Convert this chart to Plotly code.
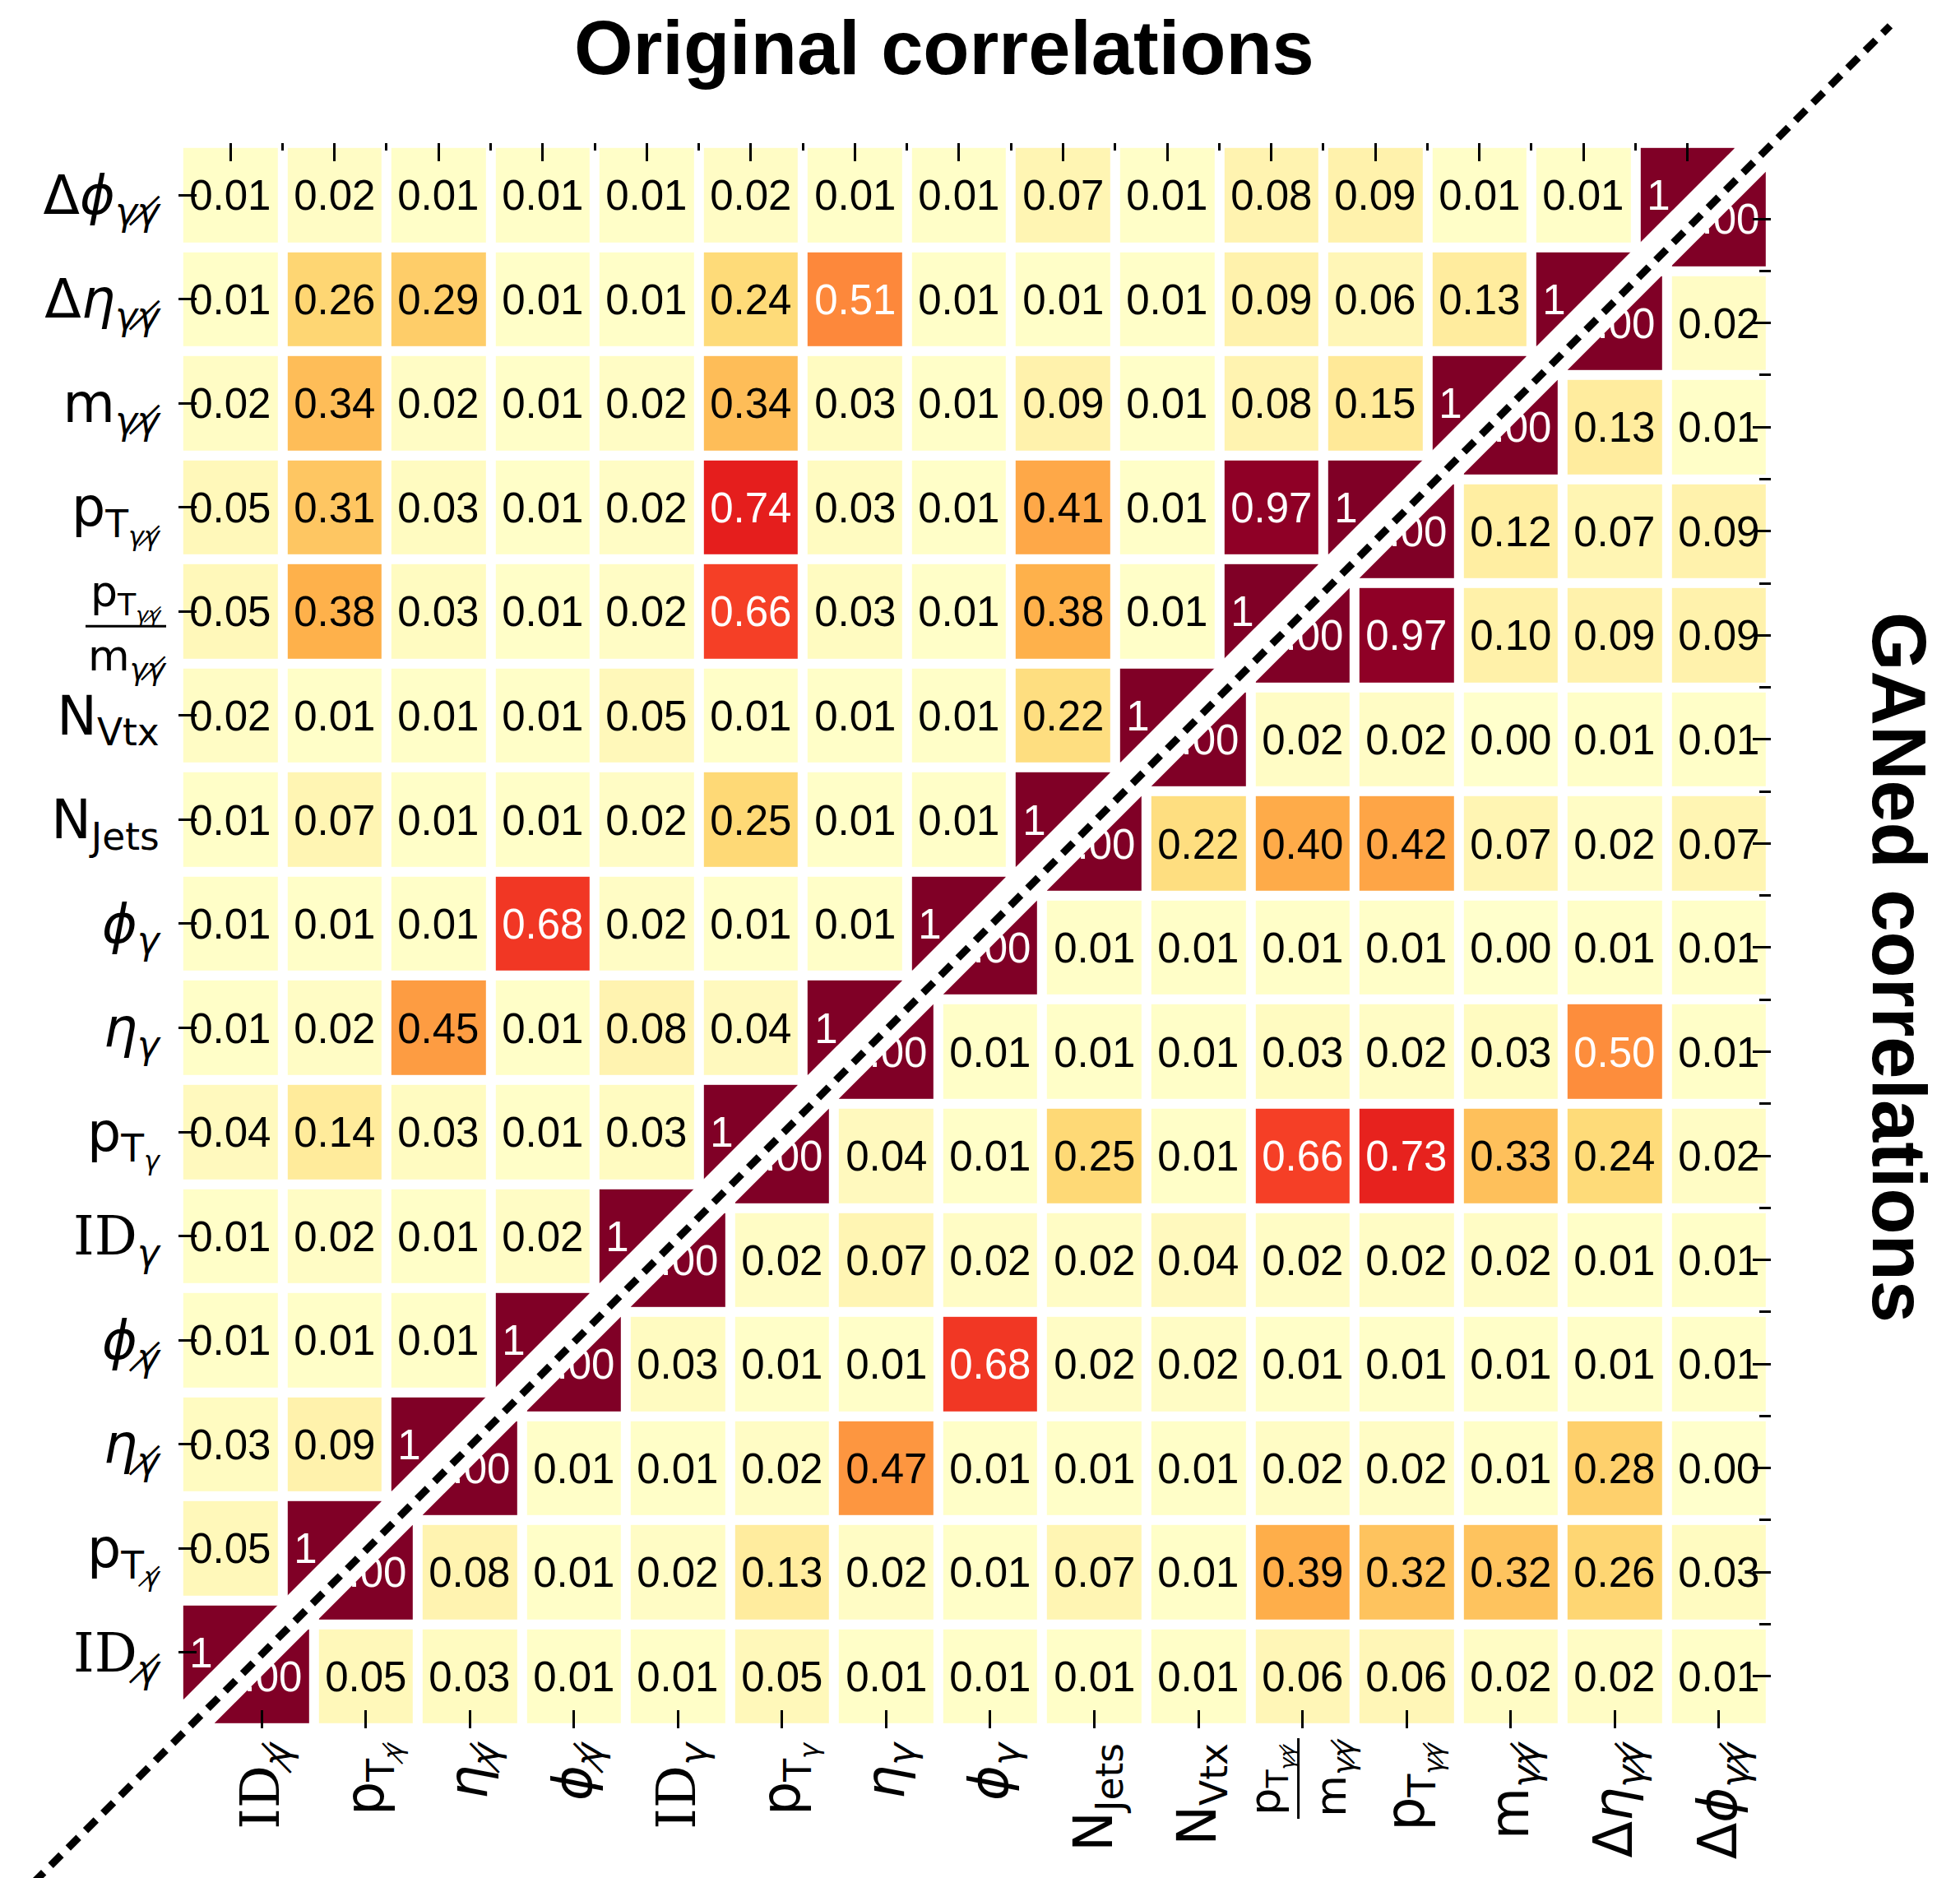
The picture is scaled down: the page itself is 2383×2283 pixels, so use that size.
import plotly.graph_objects as go

# ---------------- data ----------------
G2 = "\u03b3\u0338"  # slashed gamma (second photon)
ID = "<span style='font-family:DejaVu Serif'>ID</span>"
labels = [
    ID + "<sub><i>" + G2 + "</i></sub>",
    "p<sub>T<sub><i>" + G2 + "</i></sub></sub>",
    "<i>\u03b7</i><sub><i>" + G2 + "</i></sub>",
    "<i>\u03d5</i><sub><i>" + G2 + "</i></sub>",
    ID + "<sub><i>\u03b3</i></sub>",
    "p<sub>T<sub><i>\u03b3</i></sub></sub>",
    "<i>\u03b7</i><sub><i>\u03b3</i></sub>",
    "<i>\u03d5</i><sub><i>\u03b3</i></sub>",
    "N<sub>Jets</sub>",
    "N<sub>Vtx</sub>",
    "",  # ratio label drawn as a fraction below
    "p<sub>T<sub><i>\u03b3" + G2 + "</i></sub></sub>",
    "m<sub><i>\u03b3" + G2 + "</i></sub>",
    "\u0394<i>\u03b7</i><sub><i>\u03b3" + G2 + "</i></sub>",
    "\u0394<i>\u03d5</i><sub><i>\u03b3" + G2 + "</i></sub>",
]
ratio_index = 10
ratio_num = "p<sub>T<sub><i>\u03b3" + G2 + "</i></sub></sub>"
ratio_den = "m<sub><i>\u03b3" + G2 + "</i></sub>"

# Original correlations: row r (from bottom), columns 0..r
orig_rows = [
    [1.00],
    [0.05, 1.00],
    [0.03, 0.09, 1.00],
    [0.01, 0.01, 0.01, 1.00],
    [0.01, 0.02, 0.01, 0.02, 1.00],
    [0.04, 0.14, 0.03, 0.01, 0.03, 1.00],
    [0.01, 0.02, 0.45, 0.01, 0.08, 0.04, 1.00],
    [0.01, 0.01, 0.01, 0.68, 0.02, 0.01, 0.01, 1.00],
    [0.01, 0.07, 0.01, 0.01, 0.02, 0.25, 0.01, 0.01, 1.00],
    [0.02, 0.01, 0.01, 0.01, 0.05, 0.01, 0.01, 0.01, 0.22, 1.00],
    [0.05, 0.38, 0.03, 0.01, 0.02, 0.66, 0.03, 0.01, 0.38, 0.01, 1.00],
    [0.05, 0.31, 0.03, 0.01, 0.02, 0.74, 0.03, 0.01, 0.41, 0.01, 0.97, 1.00],
    [0.02, 0.34, 0.02, 0.01, 0.02, 0.34, 0.03, 0.01, 0.09, 0.01, 0.08, 0.15, 1.00],
    [0.01, 0.26, 0.29, 0.01, 0.01, 0.24, 0.51, 0.01, 0.01, 0.01, 0.09, 0.06, 0.13, 1.00],
    [0.01, 0.02, 0.01, 0.01, 0.01, 0.02, 0.01, 0.01, 0.07, 0.01, 0.08, 0.09, 0.01, 0.01, 1.00],
]

# GANed correlations: row r (from bottom), columns r..14
gan_rows = [
    [1.00, 0.05, 0.03, 0.01, 0.01, 0.05, 0.01, 0.01, 0.01, 0.01, 0.06, 0.06, 0.02, 0.02, 0.01],
    [1.00, 0.08, 0.01, 0.02, 0.13, 0.02, 0.01, 0.07, 0.01, 0.39, 0.32, 0.32, 0.26, 0.03],
    [1.00, 0.01, 0.01, 0.02, 0.47, 0.01, 0.01, 0.01, 0.02, 0.02, 0.01, 0.28, 0.00],
    [1.00, 0.03, 0.01, 0.01, 0.68, 0.02, 0.02, 0.01, 0.01, 0.01, 0.01, 0.01],
    [1.00, 0.02, 0.07, 0.02, 0.02, 0.04, 0.02, 0.02, 0.02, 0.01, 0.01],
    [1.00, 0.04, 0.01, 0.25, 0.01, 0.66, 0.73, 0.33, 0.24, 0.02],
    [1.00, 0.01, 0.01, 0.01, 0.03, 0.02, 0.03, 0.50, 0.01],
    [1.00, 0.01, 0.01, 0.01, 0.01, 0.00, 0.01, 0.01],
    [1.00, 0.22, 0.40, 0.42, 0.07, 0.02, 0.07],
    [1.00, 0.02, 0.02, 0.00, 0.01, 0.01],
    [1.00, 0.97, 0.10, 0.09, 0.09],
    [1.00, 0.12, 0.07, 0.09],
    [1.00, 0.13, 0.01],
    [1.00, 0.02],
    [1.00],
]

YLORRD = ["#ffffcc", "#ffeda0", "#fed976", "#feb24c", "#fd8d3c",
          "#fc4e2a", "#e31a1c", "#bd0026", "#800026"]

# ---------------- layout constants ----------------
W, H = 2383, 2283
N = len(labels)
pitch = 126.55
span = N * pitch
o_left, o_top = 208.8, 165.8
g_left, g_top = o_left + 38.0, o_top + 29.0

def px_x(p):
    return p / W

def px_y(p):
    return 1 - p / H

colorscale = [[i / (len(YLORRD) - 1), c] for i, c in enumerate(YLORRD)]

def full_matrix(rows, upper):
    z = [[None] * N for _ in range(N)]
    for r, vals in enumerate(rows):
        start = r if upper else 0
        for k, v in enumerate(vals):
            z[r][start + k] = v
    return z

def split(z, light):
    zz, tt = [], []
    for row in z:
        zr, tr = [], []
        for v in row:
            ok = v is not None and ((v >= 0.5) == light)
            zr.append(v if ok else None)
            tr.append(f"{v:.2f}" if ok else "")
        zz.append(zr)
        tt.append(tr)
    return zz, tt

z_orig = full_matrix(orig_rows, upper=False)
z_gan = full_matrix(gan_rows, upper=True)

fig = go.Figure()
idx = list(range(N))
NUMFONT = "Liberation Sans, Arial, sans-serif"
for z, xa, ya in [(z_orig, "x", "y"), (z_gan, "x2", "y2")]:
    for light in (False, True):
        zz, tt = split(z, light)
        fig.add_trace(go.Heatmap(
            z=zz, x=idx, y=idx, text=tt, texttemplate="%{text}",
            textfont=dict(family=NUMFONT, size=51,
                          color="white" if light else "black"),
            colorscale=colorscale, zmin=0, zmax=1, showscale=False,
            xgap=12, ygap=12, xaxis=xa, yaxis=ya, hoverinfo="skip",
        ))

LABELFONT = "DejaVu Sans"
tickfont = dict(family=LABELFONT, size=65, color="black")
common = dict(range=[-0.5, N - 0.5], tickmode="array", tickvals=idx,
              showgrid=False, zeroline=False, showline=False,
              ticks="inside", ticklen=22, tickwidth=2.5, tickcolor="black",
              automargin=False, fixedrange=True)
minor_vals = [i - 0.5 for i in range(N + 1)]

fig.update_layout(
    width=W, height=H,
    margin=dict(l=0, r=0, t=0, b=0),
    paper_bgcolor="white", plot_bgcolor="rgba(0,0,0,0)",
    xaxis=dict(domain=[px_x(o_left), px_x(o_left + span)], anchor="y", side="top",
               showticklabels=False,
               minor=dict(tickmode="array", tickvals=minor_vals, ticks="inside",
                          ticklen=9, tickwidth=3, tickcolor="black"),
               **common),
    yaxis=dict(domain=[px_y(o_top + span), px_y(o_top)], anchor="x", side="left",
               ticktext=labels, tickfont=tickfont, ticklabelstandoff=22, **common),
    xaxis2=dict(domain=[px_x(g_left), px_x(g_left + span)], anchor="y2", side="bottom",
                ticktext=labels, tickfont=tickfont, tickangle=-90,
                ticklabelstandoff=4, **common),
    yaxis2=dict(domain=[px_y(g_top + span), px_y(g_top)], anchor="x2", side="right",
                showticklabels=False,
                minor=dict(tickmode="array", tickvals=minor_vals, ticks="inside",
                           ticklen=14, tickwidth=3, tickcolor="black"),
                **common),
)

# ---- fraction label (pT/m) for the ratio variable ----
fracfont = dict(family=LABELFONT, size=52, color="black")
# left axis (original rows)
row_c = o_top + (N - 1 - ratio_index + 0.5) * pitch
fig.add_annotation(text=ratio_num, xref="paper", yref="paper", x=px_x(145), y=px_y(row_c - 18),
                   xanchor="center", yanchor="middle", showarrow=False, font=fracfont)
fig.add_annotation(text=ratio_den, xref="paper", yref="paper", x=px_x(147), y=px_y(row_c + 58),
                   xanchor="center", yanchor="middle", showarrow=False, font=fracfont)
fig.add_shape(type="line", xref="paper", yref="paper",
              x0=px_x(96), x1=px_x(194), y0=px_y(row_c + 18), y1=px_y(row_c + 18),
              line=dict(color="black", width=3))
# bottom axis (GANed columns)
col_c = g_left + (ratio_index + 0.5) * pitch
bot = g_top + span
fig.add_annotation(text=ratio_num, xref="paper", yref="paper", x=px_x(col_c - 40), y=px_y(bot + 62),
                   xanchor="center", yanchor="middle", textangle=-90, showarrow=False, font=fracfont)
fig.add_annotation(text=ratio_den, xref="paper", yref="paper", x=px_x(col_c + 38), y=px_y(bot + 60),
                   xanchor="center", yanchor="middle", textangle=-90, showarrow=False, font=fracfont)
fig.add_shape(type="line", xref="paper", yref="paper",
              x0=px_x(col_c - 5), x1=px_x(col_c - 5), y0=px_y(bot + 12), y1=px_y(bot + 110),
              line=dict(color="black", width=3))

# diagonal separator: white band between the two triangles + dashed line
band_sum = (o_left + g_left) / 2 + (o_top + span + g_top + span) / 2
dash_sum = band_sum + 7
bx0, bx1 = o_left + 6, g_left + span - 6
fig.add_shape(type="line", xref="paper", yref="paper",
              x0=px_x(bx0), y0=px_y(band_sum - bx0),
              x1=px_x(bx1), y1=px_y(band_sum - bx1),
              line=dict(color="white", width=47), layer="above")
dx0, dx1 = -10.0, 2290.0
fig.add_shape(type="line", xref="paper", yref="paper",
              x0=px_x(dx0), y0=px_y(dash_sum - dx0),
              x1=px_x(dx1), y1=px_y(dash_sum - dx1),
              line=dict(color="black", width=9, dash="18px,12px"), layer="above")

titlefont = dict(family="Liberation Sans, Arial, sans-serif", size=92, color="black")
fig.add_annotation(text="<b>Original correlations</b>", xref="paper", yref="paper",
                   x=px_x(1140), y=px_y(50), xanchor="center", yanchor="middle",
                   showarrow=False, font=titlefont)
fig.add_annotation(text="<b>GANed correlations</b>", xref="paper", yref="paper",
                   x=px_x(2301), y=px_y(1168), xanchor="center", yanchor="middle",
                   textangle=90, showarrow=False, font=titlefont)

fig.write_html("out.html")
